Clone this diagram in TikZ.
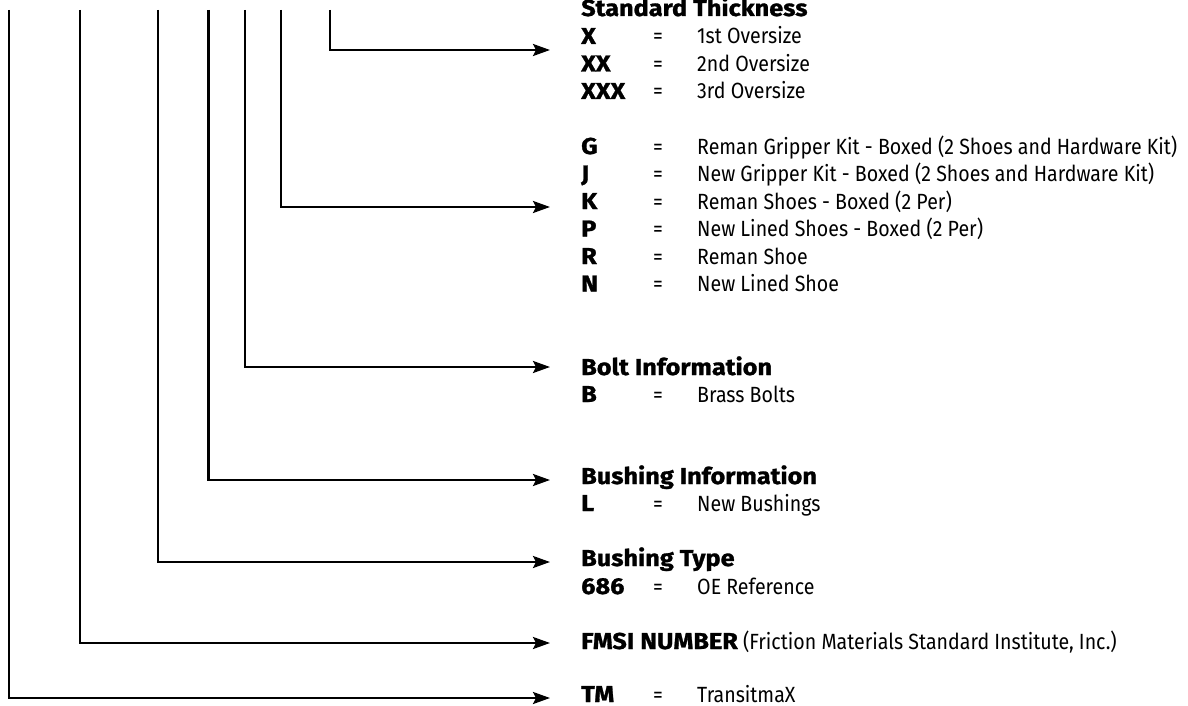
\documentclass[tikz,border=0pt]{standalone}
\usepackage{fontspec}
\usetikzlibrary{arrows.meta}
\newfontfamily\bodyfont{Fira Sans}[FakeStretch=0.89]
\newfontfamily\headfont{Fira Sans}[FakeStretch=1.1,FakeBold=1.2]
\begin{document}
\begin{tikzpicture}[x=1pt,y=-1pt,
  head/.style={anchor=base west, inner sep=0pt, font=\headfont\bfseries\fontsize{23}{27}\selectfont},
  eqs/.style={anchor=base, inner sep=0pt, font=\bodyfont\fontsize{22}{26}\selectfont},
  desc/.style={anchor=base west, inner sep=0pt, font=\bodyfont\fontsize{22}{26}\selectfont},
  conn/.style={line width=2.4pt, line join=miter, -{Stealth[length=17pt,width=12pt,inset=3pt]}}]
\useasboundingbox (0,0) rectangle (1188,706);
% tops of the vertical lines
\coordinate (v1) at (9,10);
\coordinate (v2) at (80,10);
\coordinate (v3) at (158,10);
\coordinate (v4) at (208.5,10);
\coordinate (v5) at (245,10);
\coordinate (v6) at (281,10);
\coordinate (v7) at (330,10);
% arrow tips
\coordinate (a1) at (550,698);
\coordinate (a2) at (550,643);
\coordinate (a3) at (550,562);
\coordinate (a4) at (550,480);
\coordinate (a5) at (550,367);
\coordinate (a6) at (550,207);
\coordinate (a7) at (550,50);
\foreach \i in {1,...,7} {\draw[conn] (v\i) |- (a\i);}
% Standard thickness
\node[head] (t7) at (581,16) {Standard Thickness};
\node[head] (kx) at (581,44) {X};
\node[eqs] (ex) at (658,44) {=};
\node[desc] (dx) at (697,44) {1st Oversize};
\node[head] (kxx) at (581,71.5) {XX};
\node[eqs] (exx) at (658,71.5) {=};
\node[desc] (dxx) at (697,71.5) {2nd Oversize};
\node[head] (kxxx) at (581,99) {XXX};
\node[eqs] (exxx) at (658,99) {=};
\node[desc] (dxxx) at (697,99) {3rd Oversize};
% shoe codes
\node[head] (kg) at (581,154) {G};
\node[eqs] (eg) at (658,154) {=};
\node[desc] (dg) at (697,154) {Reman Gripper Kit - Boxed (2 Shoes and Hardware Kit)};
\node[head] (kj) at (581,181.5) {J};
\node[eqs] (ej) at (658,181.5) {=};
\node[desc] (dj) at (697,181.5) {New Gripper Kit - Boxed (2 Shoes and Hardware Kit)};
\node[head] (kk) at (581,209) {K};
\node[eqs] (ek) at (658,209) {=};
\node[desc] (dk) at (697,209) {Reman Shoes - Boxed (2 Per)};
\node[head] (kp) at (581,236.5) {P};
\node[eqs] (ep) at (658,236.5) {=};
\node[desc] (dp) at (697,236.5) {New Lined Shoes - Boxed (2 Per)};
\node[head] (kr) at (581,264) {R};
\node[eqs] (er) at (658,264) {=};
\node[desc] (dr) at (697,264) {Reman Shoe};
\node[head] (kn) at (581,291.5) {N};
\node[eqs] (en) at (658,291.5) {=};
\node[desc] (dn) at (697,291.5) {New Lined Shoe};
% bolt
\node[head] (t5) at (581,375) {Bolt Information};
\node[head] (kb) at (581,402) {B};
\node[eqs] (eb) at (658,402) {=};
\node[desc] (db) at (697,402) {Brass Bolts};
% bushing info
\node[head] (t4) at (581,484) {Bushing Information};
\node[head] (kl) at (581,511) {L};
\node[eqs] (el) at (658,511) {=};
\node[desc] (dl) at (697,511) {New Bushings};
% bushing type
\node[head] (t3) at (581,566) {Bushing Type};
\node[head] (k686) at (581,594) {686};
\node[eqs] (e686) at (658,594) {=};
\node[desc] (d686) at (697,594) {OE Reference};
% FMSI
\node[head] (t2) at (581,649) {FMSI NUMBER\bodyfont\mdseries\fontsize{22}{26}\selectfont\ (Friction Materials Standard Institute, Inc.)};
% TM
\node[head] (ktm) at (581,702) {TM};
\node[eqs] (etm) at (658,702) {=};
\node[desc] (dtm) at (697,702) {TransitmaX};
\end{tikzpicture}
\end{document}
